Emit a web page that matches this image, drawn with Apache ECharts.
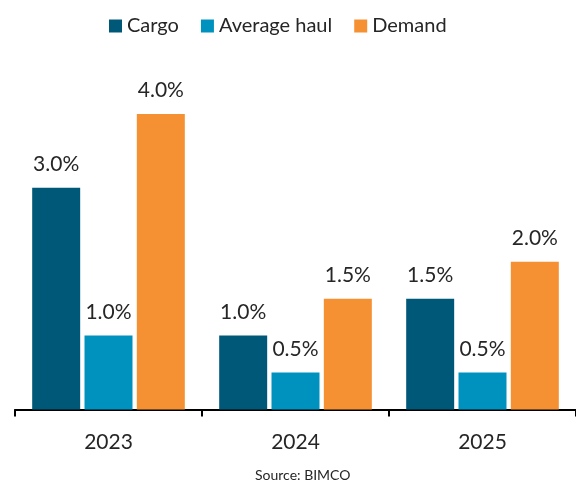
<!DOCTYPE html>
<html>
<head>
<meta charset="utf-8">
<script src="https://cdn.jsdelivr.net/npm/echarts@6/dist/echarts.min.js"></script>
<style>
  html, body { margin: 0; padding: 0; background: #fff; }
  #chart { width: 576px; height: 481px; }
</style>
</head>
<body>
<div id="chart"></div>
<script type="text/javascript">
// data (percent)
var years = ['2023', '2024', '2025'];
var cargo = [3.0, 1.0, 1.5];
var avgHaul = [1.0, 0.5, 0.5];
var demand = [4.0, 1.5, 2.0];

var font = 'Lato, "Open Sans", sans-serif';
var labelStyle = {
    show: true,
    position: 'top',
    distance: 13,
    color: '#262626',
    fontFamily: font,
    fontSize: 21,
    formatter: function (p) { return p.value.toFixed(1) + '%'; }
};

function bar(name, data, color) {
    return {
        name: name,
        type: 'bar',
        data: data,
        barWidth: 48,
        barGap: '9%',
        itemStyle: { color: color },
        label: labelStyle
    };
}

var myChart = echarts.init(document.getElementById('chart'));
var option = {
    animation: false,
    textStyle: { fontFamily: font },
    legend: {
        top: 11,
        left: 104,
        itemWidth: 13,
        itemHeight: 13,
        itemGap: 22,
        icon: 'rect',
        textStyle: { fontSize: 20, color: '#262626', fontFamily: font },
        data: ['Cargo', 'Average haul', 'Demand']
    },
    title: {
        text: 'Source: BIMCO',
        left: 250,
        top: 463,
        textStyle: { fontSize: 14, fontWeight: 'normal', color: '#262626', fontFamily: font }
    },
    grid: { left: 15, top: 40, width: 565, bottom: 71.5 },
    xAxis: {
        type: 'category',
        data: years,
        axisLine: { lineStyle: { color: '#000', width: 2 } },
        axisTick: { show: true, length: 7, lineStyle: { color: '#000', width: 2 } },
        axisLabel: { color: '#262626', fontSize: 21, margin: 22, fontFamily: font }
    },
    yAxis: {
        type: 'value',
        min: 0,
        max: 5,
        show: false,
        splitLine: { show: false }
    },
    series: [
        bar('Cargo', cargo, '#005879'),
        bar('Average haul', avgHaul, '#0092bf'),
        bar('Demand', demand, '#f59132')
    ]
};
myChart.setOption(option, true);
</script>
</body>
</html>
